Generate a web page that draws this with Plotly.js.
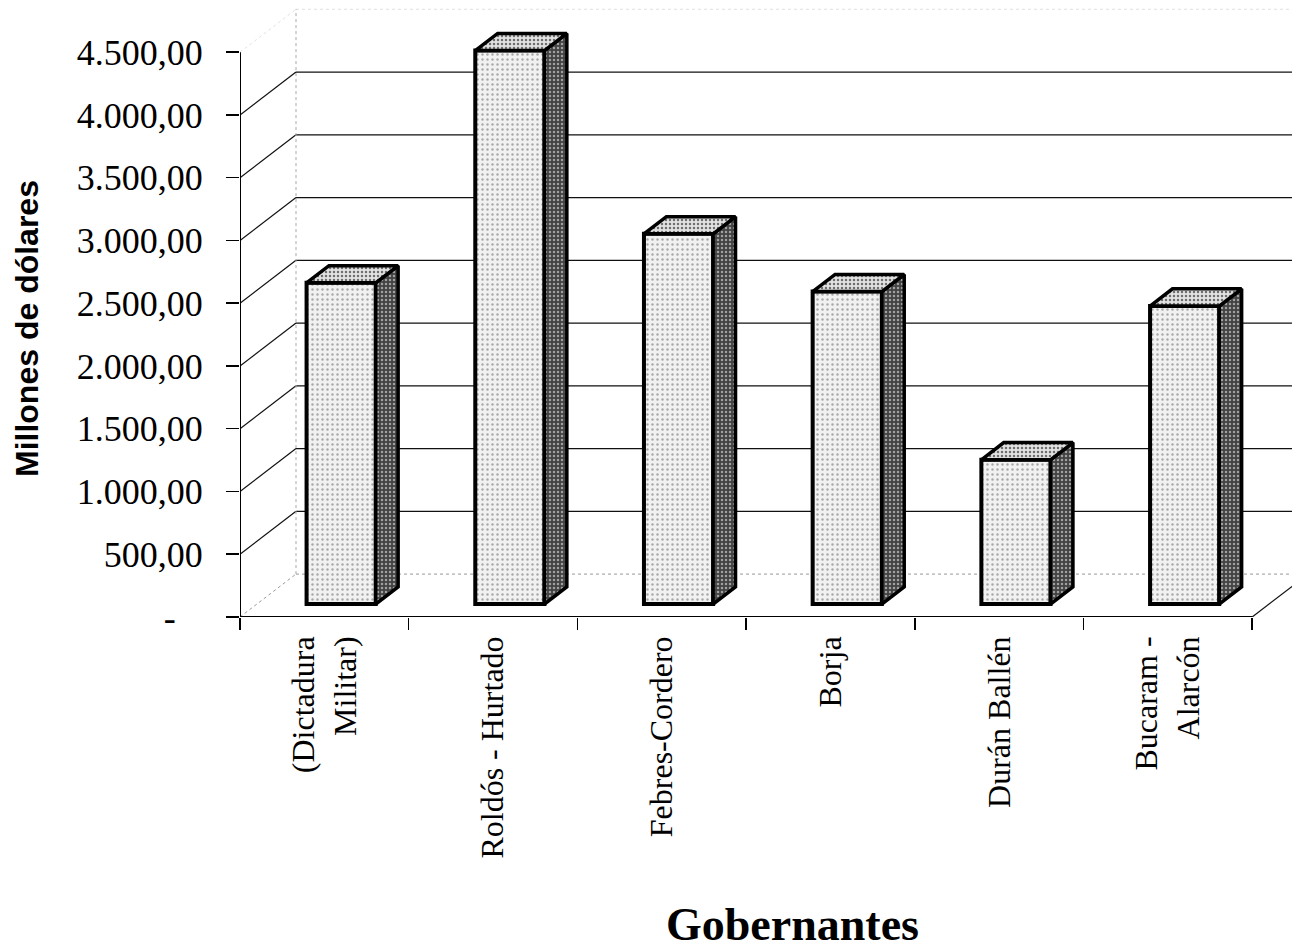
<!DOCTYPE html>
<html>
<head>
<meta charset="utf-8">
<script src="https://cdn.plot.ly/plotly-3.0.1.min.js"></script>
<style>
  html, body { margin: 0; padding: 0; background: #ffffff; }
  #chart { width: 1292px; height: 952px; }
</style>
</head>
<body>
<div id="chart"></div>
<script>
// Deuda externa por gobierno (millones de dólares)
const categories = ['(Dictadura<br>Militar)', 'Roldós - Hurtado', 'Febres-Cordero', 'Borja', 'Durán Ballén', 'Bucaram -<br>Alarcón'];
const values = [2560, 4410, 2950, 2490, 1150, 2375];

const yTickVals = [0, 500, 1000, 1500, 2000, 2500, 3000, 3500, 4000, 4500];
const yTickText = ['-\u00a0\u00a0\u00a0', '500,00', '1.000,00', '1.500,00', '2.000,00', '2.500,00', '3.000,00', '3.500,00', '4.000,00', '4.500,00'];

// 3-D projection of the chart box (floor depth as an x/y offset in axis units)
const depthX = 0.332, depthY = 342;
const barFront = 0.3, barDepth = 0.4, barWidth = 0.41;
const nCat = categories.length;

const xCenters = categories.map((c, i) => i + 0.5);
const barX = xCenters.map(x => x + barFront * depthX);
const barBase = barFront * depthY;
const bdx = barDepth * depthX, bdy = barDepth * depthY;

const traces = [];

// front faces of the columns
traces.push({
  type: 'bar',
  x: barX,
  y: values,
  base: barBase,
  width: barWidth,
  marker: {
    color: '#efefef',
    line: { color: '#000000', width: 4 },
    pattern: { shape: '.', bgcolor: '#f1f1f1', fgcolor: '#a8a8a8', size: 5, solidity: 0.18 }
  },
  hoverinfo: 'y',
  showlegend: false
});

// side and top faces
values.forEach((v, i) => {
  const xl = barX[i] - barWidth / 2, xr = barX[i] + barWidth / 2;
  const top = barBase + v;
  traces.push({
    type: 'scatter', mode: 'lines',
    x: [xr, xr + bdx, xr + bdx, xr, xr],
    y: [barBase, barBase + bdy, top + bdy, top, barBase],
    fill: 'toself',
    fillcolor: '#4a4a4a',
    fillpattern: { shape: '.', bgcolor: '#424242', fgcolor: '#a0a0a0', size: 4, solidity: 0.3 },
    line: { color: '#000000', width: 3.5 },
    hoverinfo: 'skip', showlegend: false
  });
  traces.push({
    type: 'scatter', mode: 'lines',
    x: [xl, xr, xr + bdx, xl + bdx, xl],
    y: [top, top, top + bdy, top + bdy, top],
    fill: 'toself',
    fillcolor: '#d4d4d4',
    fillpattern: { shape: '.', bgcolor: '#e2e2e2', fgcolor: '#6e6e6e', size: 4, solidity: 0.3 },
    line: { color: '#000000', width: 3.5 },
    hoverinfo: 'skip', showlegend: false
  });
});

// walls, floor and the front axis lines
const shapes = [];
const maxTick = yTickVals[yTickVals.length - 1];
yTickVals.forEach(v => {
  let style;
  if (v === 0) style = { color: '#9a9a9a', width: 1, dash: 'dot' };
  else if (v === maxTick) style = { color: '#e2e2e2', width: 1, dash: 'dot' };
  else style = { color: '#111111', width: 1.2 };
  shapes.push({ type: 'line', layer: 'below', xref: 'x', yref: 'y',
    x0: depthX, y0: v + depthY, x1: nCat + 2 * depthX, y1: v + depthY, line: style });
  shapes.push({ type: 'line', layer: 'below', xref: 'x', yref: 'y',
    x0: 0, y0: v, x1: depthX, y1: v + depthY, line: style });
});
shapes.push({ type: 'line', layer: 'below', xref: 'x', yref: 'y',
  x0: depthX, y0: depthY, x1: depthX, y1: maxTick + depthY,
  line: { color: '#a8a8a8', width: 1, dash: 'dot' } });
shapes.push({ type: 'line', layer: 'below', xref: 'x', yref: 'y',
  x0: nCat, y0: 0, x1: nCat + depthX, y1: depthY,
  line: { color: '#111111', width: 1.2 } });
shapes.push({ type: 'line', layer: 'above', xref: 'x', yref: 'y',
  x0: 0, y0: 0, x1: nCat, y1: 0, line: { color: '#000000', width: 2 } });
shapes.push({ type: 'line', layer: 'above', xref: 'x', yref: 'y',
  x0: 0, y0: 0, x1: 0, y1: maxTick, line: { color: '#000000', width: 2 } });

const boundaries = categories.map((c, i) => i).concat([nCat]);

const layout = {
  width: 1292,
  height: 952,
  margin: { l: 240, r: 0, t: 2, b: 335 },
  paper_bgcolor: '#ffffff',
  plot_bgcolor: '#ffffff',
  showlegend: false,
  font: { family: 'Liberation Serif, Times New Roman, serif', color: '#000000' },
  xaxis: {
    range: [0, 6.236],
    showgrid: false, zeroline: false, showline: false,
    tickmode: 'array',
    tickvals: xCenters,
    ticktext: categories,
    ticks: '',
    tickangle: -90,
    ticklabelstandoff: 12,
    tickfont: { family: 'Liberation Serif, Times New Roman, serif', size: 32, color: '#000000' },
    minor: { tickmode: 'array', tickvals: boundaries, ticks: 'outside', ticklen: 12, tickwidth: 1.5, tickcolor: '#000000', showgrid: false },
    fixedrange: true
  },
  yaxis: {
    range: [0, 4900],
    showgrid: false, zeroline: false, showline: false,
    tickmode: 'array',
    tickvals: yTickVals,
    ticktext: yTickText,
    ticks: 'outside',
    ticklen: 13,
    tickwidth: 1.5,
    tickcolor: '#000000',
    ticklabelstandoff: 16,
    tickfont: { family: 'Liberation Serif, Times New Roman, serif', size: 36, color: '#000000' },
    fixedrange: true
  },
  shapes: shapes,
  annotations: [
    {
      text: 'Millones de dólares', xref: 'paper', yref: 'paper',
      x: 27, y: 0, xanchor: 'center', yanchor: 'middle', showarrow: false,
      textangle: -90,
      font: { family: 'Liberation Sans, Arial, sans-serif', size: 32, color: '#000000', weight: 'bold' }
    },
    {
      text: '<b>Gobernantes</b>', xref: 'paper', yref: 'paper',
      x: 0, y: 0, xanchor: 'center', yanchor: 'middle', showarrow: false,
      font: { family: 'Liberation Serif, Times New Roman, serif', size: 46, color: '#000000' }
    }
  ]
};

// place the two axis titles in pixel terms relative to the plotting area
const plotW = 1292 - layout.margin.l - layout.margin.r;
const plotH = 952 - layout.margin.t - layout.margin.b;
layout.annotations[0].x = (27 - layout.margin.l) / plotW;
layout.annotations[0].y = (952 - layout.margin.b - 329) / plotH;
layout.annotations[1].x = (792 - layout.margin.l) / plotW;
layout.annotations[1].y = (952 - layout.margin.b - 924) / plotH;

Plotly.newPlot('chart', traces, layout, { displayModeBar: false, staticPlot: true });
</script>
</body>
</html>
